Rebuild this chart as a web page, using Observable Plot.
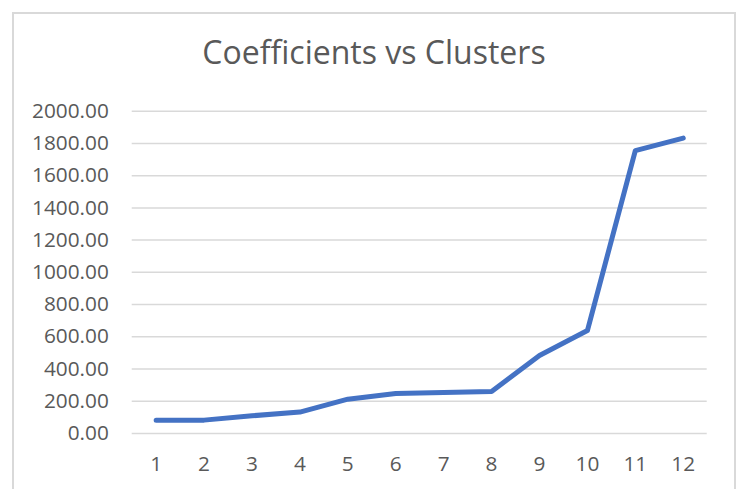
<!DOCTYPE html>
<html>
<head>
<meta charset="utf-8">
<script src="https://cdn.jsdelivr.net/npm/d3@7"></script>
<script src="https://cdn.jsdelivr.net/npm/@observablehq/plot@0.6"></script>
<style>
  html, body { margin: 0; padding: 0; background: #fff; }
  #wrap { position: relative; width: 740px; height: 489px; overflow: hidden; background: #fff; }
  #frame { position: absolute; left: 12px; top: 12px; width: 724px; height: 500px; border: 2px solid #d9d9d9; box-sizing: border-box; }
  #title { position: absolute; left: 0; width: 748px; top: 30px; text-align: center; font-family: "Open Sans", sans-serif; font-size: 32px; line-height: 44px; color: #595959; }
  #chart { position: absolute; left: 0; top: 0; }
</style>
</head>
<body>
<div id="wrap">
  <div id="frame"></div>
  <div id="title">Coefficients vs Clusters</div>
  <div id="chart"></div>
</div>
<script>
const clusters = [1, 2, 3, 4, 5, 6, 7, 8, 9, 10, 11, 12];
const coefficients = [83, 83, 110, 133, 213, 248, 254, 260, 484, 639, 1755, 1833];
const yTicks = [0, 200, 400, 600, 800, 1000, 1200, 1400, 1600, 1800, 2000];

const data = clusters.map((c, i) => ({cluster: c, coef: coefficients[i]}));
const fmt = d => d.toFixed(2);

const chart = Plot.plot({
  width: 740,
  height: 489,
  marginLeft: 131.7,
  marginRight: 33.3,
  marginTop: 110.7,
  marginBottom: 56,
  x: {type: "point", domain: clusters, padding: 0.5, round: false, label: null},
  y: {domain: [0, 2000], label: null},
  style: {fontFamily: "Open Sans, sans-serif", fontSize: "20.8px", color: "#595959", background: "transparent", overflow: "visible"},
  marks: [
    Plot.ruleY(yTicks, {stroke: "#d9d9d9", strokeWidth: 1.5}),
    Plot.axisY({ticks: yTicks, tickSize: 0, tickPadding: 23.4, tickFormat: fmt, label: null, fontSize: 20.8, fill: "#595959"}),
    Plot.axisX({tickSize: 0, tickPadding: 23, label: null, fontSize: 20.8, fill: "#595959"}),
    Plot.line(data, {x: "cluster", y: "coef", stroke: "#4472C4", strokeWidth: 5, strokeLinecap: "round", strokeLinejoin: "round"})
  ]
});
document.getElementById("chart").appendChild(chart);
</script>
</body>
</html>
